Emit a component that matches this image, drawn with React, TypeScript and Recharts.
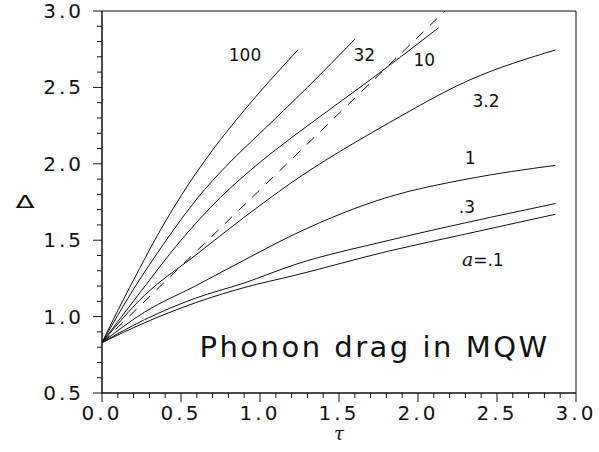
import {
  LineChart,
  Line,
  XAxis,
  YAxis,
  ReferenceArea,
  ReferenceDot,
} from "recharts";

// tau values (x) and Delta values (y) for each curve
const tau100 = [0, 0.1, 0.2, 0.35, 0.5, 0.7, 0.9, 1.05, 1.24];
const delta100 = [0.83, 1.04, 1.24, 1.53, 1.79, 2.09, 2.35, 2.53, 2.745];

const tau32 = [0, 0.2, 0.4, 0.6, 0.8, 1.0, 1.3, 1.6];
const delta32 = [0.83, 1.18, 1.49, 1.77, 2.0, 2.2, 2.5, 2.815];

const tau10 = [0, 0.25, 0.5, 0.75, 1.0, 1.25, 1.5, 1.75, 2.13];
const delta10 = [0.83, 1.17, 1.5, 1.78, 2.01, 2.21, 2.4, 2.59, 2.89];

const tauDash = [0, 2.17];
const deltaDash = [0.83, 3.0];

const tau3 = [0, 0.27, 0.59, 0.9, 1.19, 1.82, 2.33, 2.87];
const delta3 = [0.83, 1.14, 1.4, 1.65, 1.87, 2.27, 2.55, 2.745];

const tau1 = [0, 0.27, 0.59, 0.9, 1.22, 1.82, 2.31, 2.87];
const delta1 = [0.83, 1.03, 1.2, 1.37, 1.54, 1.785, 1.9, 1.99];

const tau03 = [0, 0.27, 0.59, 0.9, 1.22, 1.82, 2.46, 2.87];
const delta03 = [0.83, 0.98, 1.12, 1.22, 1.34, 1.5, 1.65, 1.74];

const tau01 = [0, 0.27, 0.59, 0.9, 1.22, 1.82, 2.3, 2.87];
const delta01 = [0.83, 0.96, 1.09, 1.19, 1.27, 1.43, 1.54, 1.67];

const xMajor = [0, 0.5, 1, 1.5, 2, 2.5, 3];
const yMajor = [0.5, 1, 1.5, 2, 2.5, 3];

// minor ticks every 0.1
const xTicks: number[] = [];
for (let i = 0; i <= 30; i++) xTicks.push(i / 10);
const yTicks: number[] = [];
for (let i = 5; i <= 30; i++) yTicks.push(i / 10);

const pts = (xs: number[], ys: number[]) => xs.map((x, i) => ({ x, y: ys[i] }));

const curves = [
  { name: "100", data: pts(tau100, delta100) },
  { name: "32", data: pts(tau32, delta32) },
  { name: "10", data: pts(tau10, delta10) },
  { name: "3.2", data: pts(tau3, delta3) },
  { name: "1", data: pts(tau1, delta1) },
  { name: ".3", data: pts(tau03, delta03) },
  { name: ".1", data: pts(tau01, delta01) },
];

const labels = [
  { text: "100", x: 0.905, y: 2.71 },
  { text: "32", x: 1.66, y: 2.71 },
  { text: "10", x: 2.04, y: 2.68 },
  { text: "3.2", x: 2.43, y: 2.41 },
  { text: "1", x: 2.33, y: 2.04 },
  { text: ".3", x: 2.31, y: 1.72 },
];

const FONT = "'DejaVu Sans', sans-serif";
const SERIF = "'DejaVu Serif', serif";
const isMajor = (v: number, list: number[]) => list.some((m) => Math.abs(m - v) < 1e-6);

const XTick = (props: any) => {
  const { x, y, payload } = props;
  const major = isMajor(payload.value, xMajor);
  return (
    <g>
      <line x1={x} x2={x} y1={y} y2={y + (major ? 9 : 5)} stroke="#111" />
      {major && (
        <text x={x} y={y + 27} textAnchor="middle" fontSize={20} fontFamily={FONT} letterSpacing={3} fill="#111">
          {payload.value.toFixed(1)}
        </text>
      )}
    </g>
  );
};

const YTick = (props: any) => {
  const { x, y, payload } = props;
  const major = isMajor(payload.value, yMajor);
  return (
    <g>
      <line x1={x - (major ? 9 : 5)} x2={x} y1={y} y2={y} stroke="#111" />
      {major && (
        <text x={x - 18} y={y + 7} textAnchor="end" fontSize={20} fontFamily={FONT} letterSpacing={3} fill="#111">
          {payload.value.toFixed(1)}
        </text>
      )}
    </g>
  );
};

const textShape = (text: string, size = 17) => (p: any) => (
  <text x={p.cx} y={p.cy + size * 0.36} textAnchor="middle" fontSize={size} fontFamily={FONT} fill="#111">
    {text}
  </text>
);

export default function App() {
  return (
    <div style={{ position: "absolute", left: 0, top: 0, width: 599, height: 452, background: "#fff" }}>
      <LineChart width={599} height={452} margin={{ top: 11, right: 23, left: 42, bottom: 0 }}>
        <XAxis
          dataKey="x"
          type="number"
          domain={[0, 3]}
          ticks={xTicks}
          interval={0}
          tickSize={0}
          tickMargin={0}
          tick={<XTick />}
          axisLine={{ stroke: "#111" }}
          height={59}
          allowDataOverflow
        />
        <YAxis
          dataKey="y"
          type="number"
          domain={[0.5, 3]}
          ticks={yTicks}
          interval={0}
          tickSize={0}
          tickMargin={0}
          tick={<YTick />}
          axisLine={{ stroke: "#111" }}
          width={60}
          allowDataOverflow
        />
        <ReferenceArea x1={0} x2={3} y1={0.5} y2={3} fill="none" stroke="#111" strokeWidth={1} />
        {curves.map((c) => (
          <Line
            key={c.name}
            data={c.data}
            dataKey="y"
            type="monotone"
            stroke="#111"
            strokeWidth={1}
            dot={false}
            isAnimationActive={false}
          />
        ))}
        <Line
          data={pts(tauDash, deltaDash)}
          dataKey="y"
          type="linear"
          stroke="#111"
          strokeWidth={1}
          strokeDasharray="10 9"
          dot={false}
          isAnimationActive={false}
        />
        {labels.map((l) => (
          <ReferenceDot key={l.text} x={l.x} y={l.y} r={0} shape={textShape(l.text)} />
        ))}
        <ReferenceDot
          x={2.41}
          y={1.37}
          r={0}
          shape={(p: any) => (
            <text x={p.cx} y={p.cy + 6} textAnchor="middle" fontSize={17} fontFamily={FONT} fill="#111">
              <tspan fontStyle="italic" fontFamily={SERIF} fontSize={19}>
                a
              </tspan>
              =.1
            </text>
          )}
        />
        <ReferenceDot
          x={1.725}
          y={0.81}
          r={0}
          shape={(p: any) => (
            <text x={p.cx} y={p.cy + 11} textAnchor="middle" fontSize={29} fontFamily={FONT} letterSpacing={2.5} fill="#111">
              Phonon drag in MQW
            </text>
          )}
        />
        {/* axis titles, placed just outside the plot box */}
        <ReferenceDot
          x={-0.487}
          y={1.71}
          r={0}
          ifOverflow="visible"
          shape={(p: any) => (
            <text
              transform={`translate(${p.cx},${p.cy}) scale(1,0.62)`}
              textAnchor="middle"
              fontSize={28}
              fontFamily={FONT}
              fill="#111"
            >
              Δ
            </text>
          )}
        />
        <ReferenceDot
          x={1.5}
          y={0.19}
          r={0}
          ifOverflow="visible"
          shape={(p: any) => (
            <text x={p.cx} y={p.cy} textAnchor="middle" fontSize={18} fontStyle="italic" fontFamily={SERIF} fill="#111">
              τ
            </text>
          )}
        />
      </LineChart>
    </div>
  );
}
